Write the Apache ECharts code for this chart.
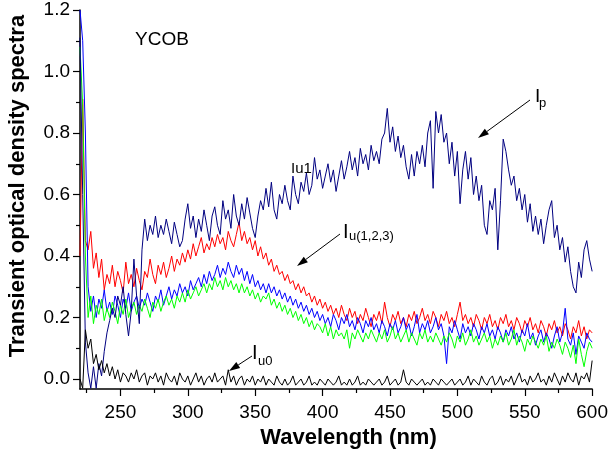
<!DOCTYPE html>
<html>
<head>
<meta charset="utf-8">
<script src="https://cdn.jsdelivr.net/npm/echarts@6/dist/echarts.min.js"></script>
<style>
html,body{margin:0;padding:0;background:#fff;}
#chart{width:611px;height:453px;}
</style>
</head>
<body>
<div id="chart"></div>
<script>
// ---------- DATA ----------
// wavelength grid: 220 .. 600 nm, 2 nm step
var wavelength = [];
for (var w = 220; w <= 600; w += 2) wavelength.push(w);

var xTicks = [250, 300, 350, 400, 450, 500, 550, 600];
var xMinorTicks = [225, 275, 325, 375, 425, 475, 525, 575];
var yTicks = [0.0, 0.2, 0.4, 0.6, 0.8, 1.0, 1.2];
var yMinorTicks = [0.1, 0.3, 0.5, 0.7, 0.9, 1.1];

// Ip (navy)
var ipNavy = [
 1.11, 0.60, 0.12, 0.02, -0.03, 0.04, -0.03, 0.05, 0.01, 0.09,
 0.15, 0.19, 0.23, 0.20, 0.27, 0.24, 0.30, 0.21, 0.14, 0.22,
 0.39, 0.27, 0.18, 0.42, 0.52, 0.45, 0.50, 0.47, 0.53, 0.46,
 0.50, 0.47, 0.52, 0.48, 0.44, 0.51, 0.47, 0.43, 0.45, 0.52,
 0.57, 0.49, 0.53, 0.46, 0.52, 0.48, 0.55, 0.50, 0.45, 0.53,
 0.56, 0.50, 0.47, 0.58, 0.52, 0.55, 0.49, 0.60, 0.53, 0.50,
 0.57, 0.52, 0.59, 0.54, 0.49, 0.46, 0.53, 0.58, 0.55, 0.62,
 0.56, 0.64, 0.55, 0.52, 0.60, 0.57, 0.63, 0.58, 0.55, 0.66,
 0.60, 0.57, 0.64, 0.61, 0.67, 0.60, 0.63, 0.72, 0.65, 0.68,
 0.62, 0.66, 0.70, 0.64, 0.68, 0.61, 0.66, 0.71, 0.65, 0.69,
 0.74, 0.68, 0.72, 0.66, 0.75, 0.70, 0.73, 0.68, 0.76, 0.71,
 0.74, 0.70, 0.78, 0.80, 0.88, 0.77, 0.82, 0.74, 0.79, 0.72,
 0.76, 0.69, 0.65, 0.73, 0.66, 0.74, 0.70, 0.76, 0.69, 0.80,
 0.84, 0.62, 0.87, 0.80, 0.86, 0.77, 0.80, 0.70, 0.77, 0.66,
 0.74, 0.57, 0.68, 0.74, 0.65, 0.72, 0.60, 0.66, 0.58, 0.63,
 0.50, 0.47, 0.58, 0.55, 0.62, 0.42, 0.58, 0.78, 0.74, 0.68,
 0.63, 0.66, 0.58, 0.62, 0.55, 0.60, 0.51, 0.57, 0.48, 0.53,
 0.47, 0.52, 0.44, 0.50, 0.55, 0.58, 0.46, 0.50, 0.42, 0.46,
 0.38, 0.43, 0.35, 0.30, 0.28, 0.38, 0.33, 0.42, 0.45, 0.39,
 0.35
];

// Iu red
var iuRed = [
 0.40, 0.91, 0.45, 0.42, 0.48, 0.36, 0.41, 0.33, 0.39, 0.29,
 0.34, 0.31, 0.37, 0.30, 0.35, 0.32, 0.28, 0.38, 0.31, 0.34,
 0.30, 0.36, 0.32, 0.29, 0.35, 0.33, 0.39, 0.34, 0.31, 0.37,
 0.34, 0.38, 0.33, 0.36, 0.40, 0.35, 0.39, 0.37, 0.41, 0.38,
 0.42, 0.39, 0.44, 0.40, 0.43, 0.46, 0.41, 0.44, 0.42, 0.46,
 0.43, 0.47, 0.44, 0.46, 0.42, 0.48, 0.45, 0.43, 0.47, 0.51,
 0.45, 0.48, 0.44, 0.46, 0.42, 0.45, 0.40, 0.43, 0.39, 0.41,
 0.37, 0.39, 0.35, 0.37, 0.34, 0.35, 0.32, 0.34, 0.31, 0.32,
 0.29, 0.31, 0.28, 0.30, 0.27, 0.28, 0.25, 0.27, 0.24, 0.26,
 0.23, 0.25, 0.22, 0.24, 0.21, 0.23, 0.20, 0.24, 0.21, 0.19,
 0.23, 0.20, 0.22, 0.18, 0.21, 0.19, 0.23, 0.20, 0.17, 0.21,
 0.19, 0.22, 0.18, 0.25, 0.20, 0.17, 0.21, 0.19, 0.22, 0.18,
 0.20, 0.17, 0.21, 0.19, 0.22, 0.18, 0.20, 0.23, 0.19, 0.21,
 0.18, 0.22, 0.20, 0.17, 0.21, 0.19, 0.22, 0.18, 0.20, 0.17,
 0.21, 0.25, 0.19, 0.21, 0.18, 0.20, 0.17, 0.21, 0.19, 0.16,
 0.20, 0.18, 0.21, 0.17, 0.19, 0.16, 0.20, 0.18, 0.21, 0.17,
 0.19, 0.16, 0.20, 0.18, 0.15, 0.19, 0.17, 0.20, 0.16, 0.18,
 0.15, 0.19, 0.17, 0.14, 0.18, 0.16, 0.19, 0.15, 0.17, 0.14,
 0.18, 0.16, 0.13, 0.17, 0.15, 0.19, 0.14, 0.17, 0.13, 0.16,
 0.15
];

// Iu blue
var iuBlue = [
 1.20, 1.10, 0.80, 0.30, 0.22, 0.27, 0.20, 0.26, 0.23, 0.29,
 0.22, 0.25, 0.21, 0.27, 0.24, 0.20, 0.26, 0.23, 0.28, 0.22,
 0.25, 0.27, 0.23, 0.26, 0.24, 0.28, 0.25, 0.22, 0.27, 0.25,
 0.29, 0.24, 0.27, 0.30, 0.26, 0.29, 0.27, 0.31, 0.28, 0.30,
 0.27, 0.32, 0.29, 0.31, 0.33, 0.30, 0.34, 0.31, 0.35, 0.32,
 0.34, 0.37, 0.33, 0.36, 0.34, 0.38, 0.35, 0.33, 0.37, 0.34,
 0.36, 0.32, 0.35, 0.31, 0.34, 0.30, 0.32, 0.29, 0.31, 0.28,
 0.31, 0.28, 0.30, 0.27, 0.29, 0.26, 0.28, 0.25, 0.27, 0.24,
 0.26, 0.23, 0.25, 0.22, 0.24, 0.21, 0.23, 0.20, 0.22, 0.19,
 0.21, 0.18, 0.20, 0.17, 0.21, 0.19, 0.16, 0.20, 0.18, 0.21,
 0.17, 0.19, 0.16, 0.20, 0.18, 0.15, 0.19, 0.17, 0.20, 0.16,
 0.18, 0.15, 0.19, 0.17, 0.14, 0.18, 0.16, 0.19, 0.15, 0.17,
 0.20, 0.16, 0.18, 0.14, 0.17, 0.21, 0.15, 0.18, 0.16, 0.19,
 0.15, 0.17, 0.20, 0.16, 0.18, 0.14, 0.05, 0.17, 0.15, 0.19,
 0.16, 0.13, 0.18, 0.15, 0.17, 0.14, 0.18, 0.16, 0.13, 0.17,
 0.15, 0.18, 0.14, 0.16, 0.13, 0.17, 0.15, 0.12, 0.16, 0.14,
 0.17, 0.13, 0.15, 0.12, 0.16, 0.14, 0.18, 0.13, 0.15, 0.11,
 0.14, 0.16, 0.12, 0.15, 0.13, 0.10, 0.14, 0.17, 0.12, 0.15,
 0.23, 0.13, 0.11, 0.15, 0.08, 0.14, 0.12, 0.10, 0.15, 0.13,
 0.12
];

// Iu green
var iuGreen = [
 1.08, 0.89, 0.40, 0.20, 0.27, 0.18, 0.24, 0.21, 0.26, 0.19,
 0.23, 0.20, 0.25, 0.22, 0.18, 0.24, 0.21, 0.26, 0.20, 0.23,
 0.25, 0.21, 0.24, 0.22, 0.26, 0.23, 0.20, 0.25, 0.23, 0.26,
 0.22, 0.25, 0.27, 0.24, 0.26, 0.23, 0.27, 0.25, 0.28, 0.25,
 0.29, 0.26, 0.28, 0.30, 0.27, 0.29, 0.31, 0.28, 0.31, 0.29,
 0.33, 0.30, 0.32, 0.29, 0.33, 0.30, 0.32, 0.29, 0.31, 0.28,
 0.31, 0.28, 0.30, 0.27, 0.29, 0.26, 0.28, 0.25, 0.27, 0.26,
 0.28, 0.24, 0.26, 0.23, 0.25, 0.22, 0.24, 0.21, 0.23, 0.20,
 0.22, 0.19, 0.21, 0.18, 0.20, 0.17, 0.19, 0.16, 0.18, 0.17,
 0.15, 0.18, 0.14, 0.17, 0.13, 0.16, 0.14, 0.15, 0.13, 0.16,
 0.10, 0.15, 0.13, 0.16, 0.14, 0.12, 0.15, 0.13, 0.16, 0.14,
 0.12, 0.15, 0.13, 0.16, 0.12, 0.14, 0.17, 0.13, 0.15, 0.12,
 0.14, 0.16, 0.12, 0.15, 0.13, 0.11, 0.15, 0.13, 0.16, 0.12,
 0.14, 0.12, 0.15, 0.13, 0.11, 0.14, 0.12, 0.15, 0.13, 0.10,
 0.14, 0.12, 0.15, 0.11, 0.13, 0.16, 0.12, 0.14, 0.11, 0.13,
 0.15, 0.12, 0.14, 0.10, 0.13, 0.11, 0.14, 0.12, 0.15, 0.11,
 0.13, 0.16, 0.11, 0.14, 0.12, 0.09, 0.13, 0.11, 0.14, 0.12,
 0.10, 0.13, 0.11, 0.14, 0.09, 0.12, 0.10, 0.13, 0.11, 0.08,
 0.12, 0.10, 0.07, 0.11, 0.05, 0.13, 0.08, 0.04, 0.09, 0.12,
 0.10
];

// Iu0 (black)
var iu0Black = [
 0.00, -0.03, 0.16, 0.10, 0.13, 0.05, 0.08, 0.03, 0.06, 0.02,
 0.05, 0.01, 0.04, 0.00, 0.03, -0.01, 0.02, 0.01, -0.01, 0.02,
 0.00, 0.03, -0.01, 0.01, 0.02, -0.02, 0.01, 0.00, 0.02, -0.01,
 0.01, -0.02, 0.02, 0.00, -0.01, 0.01, -0.02, 0.02, 0.00, -0.01,
 0.01, -0.02, 0.00, 0.02, -0.01, 0.01, -0.02, 0.00, 0.01, -0.01,
 0.02, -0.01, 0.00, 0.01, -0.02, 0.03, -0.01, 0.01, -0.02, 0.00,
 0.01, -0.02, 0.00, -0.01, 0.01, -0.02, 0.00, -0.01, 0.01, -0.02,
 0.00, -0.01, -0.02, 0.01, -0.01, -0.02, 0.00, -0.02, -0.01, 0.01,
 -0.02, -0.01, 0.00, -0.02, -0.01, 0.01, -0.02, -0.01, -0.02, 0.00,
 -0.01, -0.02, 0.00, -0.01, -0.02, -0.01, 0.01, -0.02, -0.01, -0.02,
 0.00, -0.02, -0.01, 0.01, -0.02, -0.01, -0.02, 0.00, -0.01, -0.02,
 -0.01, 0.00, -0.02, -0.01, 0.01, -0.02, -0.01, 0.00, -0.02, -0.01,
 0.03, -0.01, -0.02, 0.00, -0.01, -0.02, -0.01, 0.00, -0.02, -0.01,
 -0.02, 0.00, -0.01, -0.02, 0.00, -0.01, -0.02, -0.01, 0.00, -0.02,
 -0.01, 0.00, -0.02, -0.01, 0.01, -0.02, 0.00, -0.01, -0.02, 0.01,
 -0.01, -0.02, 0.00, 0.01, -0.02, -0.01, 0.01, -0.02, 0.00, -0.01,
 0.01, -0.02, 0.00, 0.02, -0.01, 0.00, -0.02, 0.01, -0.01, 0.00,
 0.02, -0.01, 0.00, -0.02, 0.01, -0.01, 0.02, 0.00, -0.02, 0.01,
 -0.01, 0.02, 0.00, -0.01, 0.02, -0.02, 0.01, 0.00, 0.02, -0.01,
 0.06
];

// ---------- CHART ----------
var FONT = "'Liberation Sans', Arial, Helvetica, sans-serif";
function pairs(vals) {
  return wavelength.map(function (w, i) { return [w, vals[i]]; });
}
function lineSeries(name, vals, color) {
  return {
    name: name, type: 'line', data: pairs(vals),
    showSymbol: false, symbol: 'none', clip: true,
    lineStyle: { color: color, width: 1 },
    emphasis: { disabled: true }, animation: false
  };
}
function arrow(x1, y1, x2, y2) {
  var dx = x2 - x1, dy = y2 - y1, L = Math.sqrt(dx * dx + dy * dy);
  var ux = dx / L, uy = dy / L, hl = 11, hw = 3.5;
  var bx = x2 - ux * hl, by = y2 - uy * hl;
  return [
    { type: 'line', shape: { x1: x1, y1: y1, x2: bx, y2: by }, style: { stroke: '#000', lineWidth: 1 }, silent: true },
    { type: 'polygon', shape: { points: [[x2, y2], [bx - uy * hw, by + ux * hw], [bx + uy * hw, by - ux * hw]] }, style: { fill: '#000' }, silent: true }
  ];
}
function txt(x, y, s, size, bold, align) {
  return { type: 'text', x: x, y: y, silent: true,
    style: { text: s, font: (bold ? 'bold ' : '') + size + 'px ' + FONT, fill: '#000', textAlign: align || 'left', textVerticalAlign: 'middle', verticalAlign: 'middle' } };
}

var axisBase = {
  type: 'value', axisLine: { onZero: false, lineStyle: { color: '#000', width: 1.5 } },
  splitLine: { show: false }
};

var graphics = [
  txt(135, 39.5, 'YCOB', 19),
  txt(291, 168.5, 'Iu1', 15),
  txt(535, 96.5, 'I', 19), txt(539, 103.5, 'p', 13),
  txt(343, 232.5, 'I', 20), txt(349, 236.5, 'u(1,2,3)', 13),
  txt(252, 353.5, 'I', 20), txt(258, 361.5, 'u0', 13),
  txt(348.5, 437.5, 'Wavelength (nm)', 22, true, 'center'),
  { type: 'text', x: 17.5, y: 186, rotation: Math.PI / 2, silent: true,
    style: { text: 'Transient optical density spectra', font: 'bold 22px ' + FONT, fill: '#000', textAlign: 'center', textVerticalAlign: 'middle', verticalAlign: 'middle' } }
].concat(arrow(530, 100, 478, 138), arrow(340, 234, 297, 266), arrow(252, 356, 229, 371));

var chart = echarts.init(document.getElementById('chart'), null, { renderer: 'canvas' });
chart.setOption({
  animation: false,
  backgroundColor: '#fff',
  grid: { left: 80, right: 18, top: 10, bottom: 64, containLabel: false },
  xAxis: [
    Object.assign({}, axisBase, {
      min: 220, max: 600, position: 'bottom',
      axisTick: { show: true, customValues: xTicks, length: 7, lineStyle: { color: '#000', width: 1.2 } },
      axisLabel: { customValues: xTicks, color: '#000', fontSize: 19, fontFamily: FONT, margin: 14 }
    }),
    Object.assign({}, axisBase, {
      min: 220, max: 600, position: 'bottom', offset: 0,
      axisLine: { show: false, onZero: false },
      axisTick: { show: true, customValues: xMinorTicks, length: 4, lineStyle: { color: '#000', width: 1.2 } },
      axisLabel: { show: false }
    })
  ],
  yAxis: [
    Object.assign({}, axisBase, {
      min: -0.0325, max: 1.2, position: 'left',
      axisTick: { show: true, customValues: yTicks, length: 7, lineStyle: { color: '#000', width: 1.2 } },
      axisLabel: { customValues: yTicks, color: '#000', fontSize: 19, fontFamily: FONT, margin: 10,
        formatter: function (v) { return Number(v).toFixed(1); } }
    }),
    Object.assign({}, axisBase, {
      min: -0.0325, max: 1.2, position: 'left', offset: 0,
      axisLine: { show: false, onZero: false },
      axisTick: { show: true, customValues: yMinorTicks, length: 4, lineStyle: { color: '#000', width: 1.2 } },
      axisLabel: { show: false }
    })
  ],
  series: [
    lineSeries('Iu red', iuRed, '#ff0000'),
    lineSeries('Iu blue', iuBlue, '#0000ff'),
    lineSeries('Iu green', iuGreen, '#00ff00'),
    lineSeries('Ip', ipNavy, '#000080'),
    lineSeries('Iu0', iu0Black, '#000000')
  ],
  graphic: graphics
});
</script>
</body>
</html>
